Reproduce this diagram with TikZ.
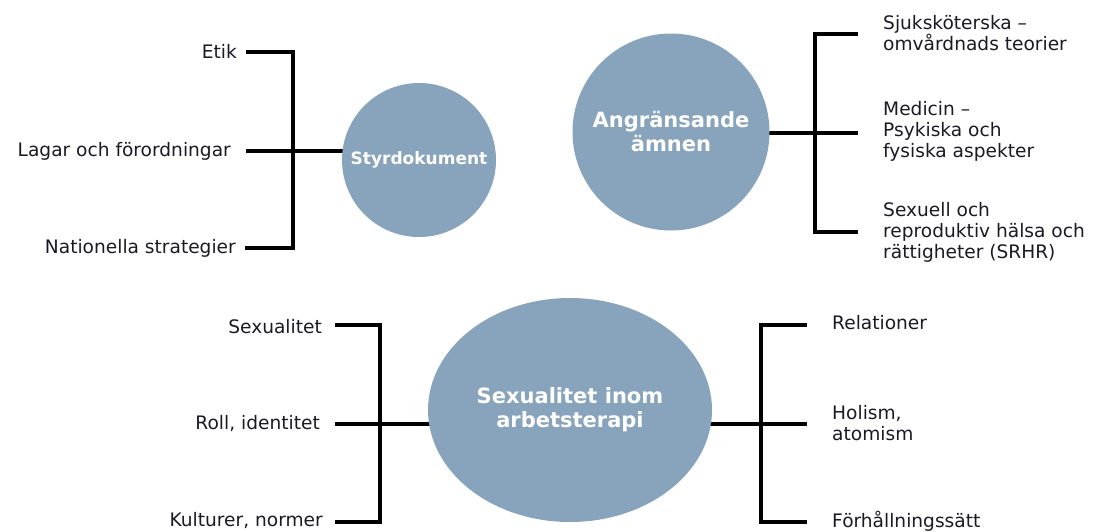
\documentclass[tikz,border=0pt]{standalone}
\usepackage{fontspec}
\setmainfont{DejaVu Sans}
\usetikzlibrary{shapes.geometric,backgrounds}
\definecolor{bub}{HTML}{88A4BD}
\definecolor{ink}{HTML}{1A1A26}
\begin{document}
\begin{tikzpicture}[x=1pt,y=-1pt,
  lbl/.style={font=\fontsize{18.6}{21}\selectfont, text=ink, inner sep=0pt, align=left},
  bubtext/.style={text=white, font=\bfseries\fontsize{21}{24}\selectfont, align=center, inner sep=0pt},
  bubcirc/.style={circle, fill=bub, bubtext},
  br/.style={draw=black, line width=3.2pt, line cap=butt, line join=miter}]
\useasboundingbox (0,0) rectangle (1110,531);

% ---------- Styrdokument ----------
\node[bubcirc, minimum size=154pt, font=\bfseries\fontsize{17}{20}\selectfont] (styr) at (419,160) {Styrdokument};
\node[lbl, anchor=east] (etik) at (237,51) {Etik};
\node[lbl, anchor=east] (lagar) at (231,151) {Lagar och förordningar};
\node[lbl, anchor=east] (nat) at (236,248) {Nationella strategier};
\coordinate (j1) at (293,151);
\coordinate (e1) at (246,52);
\coordinate (e2) at (246,151);
\coordinate (e3) at (245,248);

% ---------- Angränsande ämnen ----------
\node[bubcirc, minimum size=197pt] (ang) at (671,132) {Angränsande\\ämnen};
\node[lbl, anchor=west] (sjuk) at (883,33) {Sjuksköterska –\\omvårdnads teorier};
\node[lbl, anchor=west] (med) at (883,131) {Medicin –\\Psykiska och\\fysiska aspekter};
\node[lbl, anchor=west] (srhr) at (883,232) {Sexuell och\\reproduktiv hälsa och\\rättigheter (SRHR)};
\coordinate (j2) at (815,133);
\coordinate (f1) at (858,34);
\coordinate (f2) at (858,133);
\coordinate (f3) at (858,232);

% ---------- Sexualitet inom arbetsterapi ----------
\node[ellipse, fill=bub, bubtext, minimum width=284pt, minimum height=224pt] (sex) at (570,410) {Sexualitet inom\\arbetsterapi};
\node[lbl, anchor=east] (sexu) at (322,327) {Sexualitet};
\node[lbl, anchor=east] (roll) at (320,424) {Roll, identitet};
\node[lbl, anchor=east] (kult) at (323,521) {Kulturer, normer};
\node[lbl, anchor=west] (rel) at (832,323) {Relationer};
\node[lbl, anchor=west] (hol) at (832,423) {Holism,\\atomism};
\node[lbl, anchor=west] (forh) at (832,521) {Förhållningssätt};
\coordinate (j3) at (380,424);
\coordinate (g1) at (335,325);
\coordinate (g2) at (335,424);
\coordinate (g3) at (335,522);
\coordinate (j4) at (761,424);
\coordinate (h1) at (807,325);
\coordinate (h2) at (807,424);
\coordinate (h3) at (807,522);

\begin{pgfonlayer}{background}
  \draw[br] (e1) -| (j1) |- (e3);
  \draw[br] (e2) -- (styr.center |- j1);
  \draw[br] (f1) -| (j2) |- (f3);
  \draw[br] (f2) -- (ang.center |- j2);
  \draw[br] (g1) -| (j3) |- (g3);
  \draw[br] (g2) -- (sex.center |- j3);
  \draw[br] (h1) -| (j4) |- (h3);
  \draw[br] (h2) -- (sex.center |- j4);
\end{pgfonlayer}
\end{tikzpicture}
\end{document}
